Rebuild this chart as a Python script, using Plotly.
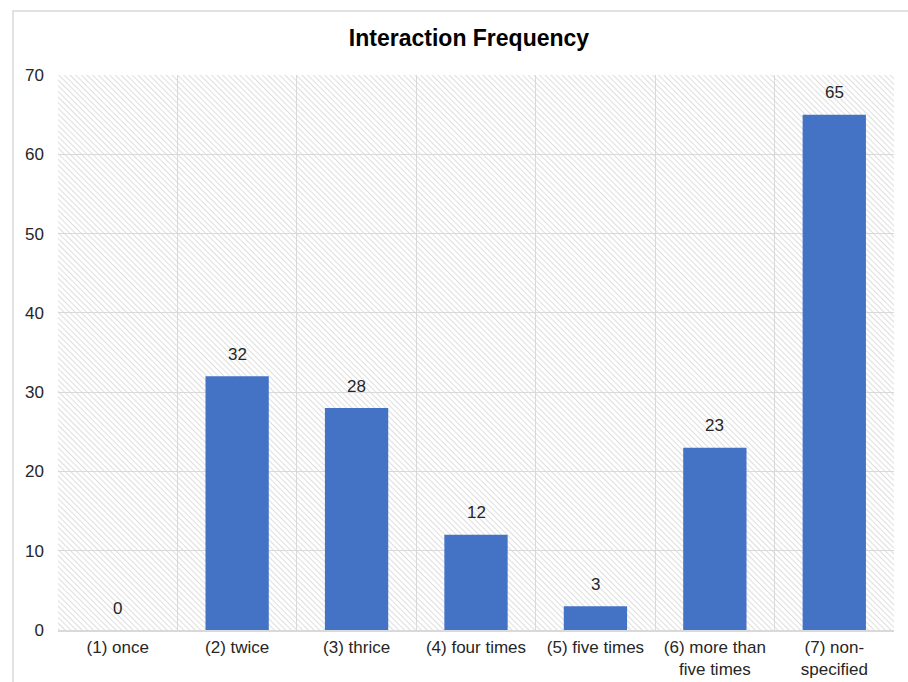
import base64
import plotly.graph_objects as go

# Chart data
categories = ["(1) once", "(2) twice", "(3) thrice", "(4) four times",
              "(5) five times", "(6) more than<br>five times", "(7) non-<br>specified"]
counts = [0, 32, 28, 12, 3, 23, 65]
y_ticks = [0, 10, 20, 30, 40, 50, 60, 70]

FONT = "Liberation Sans, Arial, sans-serif"
BAR_COLOR = "#4472C4"
GRID = "#d9d9d9"
TEXT = "#262626"

W, H = 908, 682
M_L, M_R, M_T, M_B = 58, 14, 75, 52
PW, PH = W - M_L - M_R, H - M_T - M_B

# Diagonal hatch texture for the plotting area (drawn beneath the gridlines)
hatch_svg = (
    f'<svg xmlns="http://www.w3.org/2000/svg" width="{PW}" height="{PH}" '
    f'viewBox="0 0 {PW} {PH}">'
    '<defs><pattern id="h" patternUnits="userSpaceOnUse" width="4" height="4" '
    'patternTransform="rotate(-45)">'
    '<line x1="0" y1="0" x2="0" y2="4" stroke="#d6d6d6" stroke-width="1.6"/>'
    '</pattern></defs>'
    f'<rect width="{PW}" height="{PH}" fill="white"/>'
    f'<rect width="{PW}" height="{PH}" fill="url(#h)"/>'
    '</svg>'
)
hatch_uri = "data:image/svg+xml;base64," + base64.b64encode(hatch_svg.encode()).decode()

fig = go.Figure(
    go.Bar(
        x=categories,
        y=counts,
        marker=dict(color=BAR_COLOR, line=dict(width=0)),
        hoverinfo="skip",
    )
)

# Value labels above each bar
for cat, val in zip(categories, counts):
    fig.add_annotation(
        x=cat, y=val, text=str(val), showarrow=False,
        yanchor="middle", yshift=22,
        font=dict(family=FONT, size=17, color=TEXT),
    )

fig.add_layout_image(
    source=hatch_uri, xref="x domain", yref="y domain",
    x=0, y=1, sizex=1, sizey=1, xanchor="left", yanchor="top",
    sizing="stretch", layer="below",
)

# Light frame around the chart
fig.add_shape(
    type="rect", xref="paper", yref="paper",
    x0=(13 - M_L) / PW, x1=1.2, y0=-0.3, y1=(H - M_B - 11) / PH,
    line=dict(color=GRID, width=1.5), fillcolor="rgba(0,0,0,0)", layer="below",
)

fig.update_layout(
    width=W, height=H,
    margin=dict(l=M_L, r=M_R, t=M_T, b=M_B, autoexpand=False),
    paper_bgcolor="white",
    plot_bgcolor="rgba(0,0,0,0)",
    showlegend=False,
    bargap=0.47,
    title=dict(
        text="<b>Interaction Frequency</b>",
        x=469 / W, xref="container", xanchor="center",
        y=1 - 38 / H, yref="container", yanchor="middle",
        font=dict(family=FONT, size=23, color="#000000"),
    ),
    xaxis=dict(
        automargin=False,
        tickson="boundaries", showgrid=True, gridcolor=GRID, gridwidth=1.3,
        showline=True, linecolor=GRID, linewidth=1.5,
        ticks="", tickfont=dict(family=FONT, size=17, color=TEXT),
        ticklabelstandoff=1,
    ),
    yaxis=dict(
        automargin=False,
        range=[0, 70], tickvals=y_ticks, showgrid=True, gridcolor=GRID, gridwidth=1.3,
        zeroline=False, ticks="", ticklabelstandoff=13,
        tickfont=dict(family=FONT, size=17, color=TEXT),
    ),
)

fig.write_html("out.html")
